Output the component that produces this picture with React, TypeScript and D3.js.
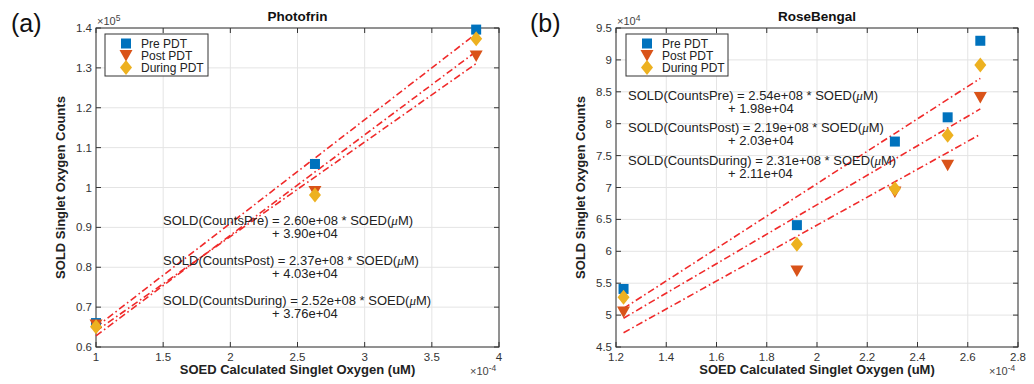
import React from "react";
import * as d3 from "d3";

// ---------- Data ----------
// Panel (a) Photofrin: x in 1e-4 uM, y in 1e5 counts
const photofrinX = [1.0, 2.63, 3.83];
const photofrinPre = [0.66, 1.059, 1.396];
const photofrinPost = [0.655, 0.99, 1.33];
const photofrinDuring = [0.651, 0.981, 1.373];
const photofrinSlopes = [2.6, 2.37, 2.52]; // e+08
const photofrinIntercepts = [3.9, 4.03, 3.76]; // e+04
const photofrinXTicks = [1, 1.5, 2, 2.5, 3, 3.5, 4];
const photofrinYTicks = [0.6, 0.7, 0.8, 0.9, 1.0, 1.1, 1.2, 1.3, 1.4];

// Panel (b) RoseBengal: x in 1e-4 uM, y in 1e4 counts
const roseX = [1.23, 1.92, 2.31, 2.52, 2.65];
const rosePre = [5.41, 6.41, 7.72, 8.1, 9.3];
const rosePost = [5.05, 5.69, 6.93, 7.35, 8.41];
const roseDuring = [5.28, 6.11, 6.98, 7.82, 8.92];
const roseSlopes = [2.54, 2.19, 2.31]; // e+08
const roseIntercepts = [1.98, 2.03, 2.11]; // e+04
const roseXTicks = [1.2, 1.4, 1.6, 1.8, 2.0, 2.2, 2.4, 2.6, 2.8];
const roseYTicks = [4.5, 5, 5.5, 6, 6.5, 7, 7.5, 8, 8.5, 9, 9.5];

const seriesNames = ["Pre PDT", "Post PDT", "During PDT"];
const fitNames = ["CountsPre", "CountsPost", "CountsDuring"];

const FONT = "'Liberation Sans', Arial, Helvetica, sans-serif";
const COLORS = ["#0072BD", "#D95319", "#EDB120"];
const LINE_RED = "#f02a2a";
const AXIS = "#333333";
const GRID = "#e4e4e4";

function fmt(v: number) {
  return String(+v.toFixed(2));
}

function Marker({ kind, cx, cy }: { kind: number; cx: number; cy: number }) {
  if (kind === 0) {
    return <rect x={cx - 5} y={cy - 5} width={10} height={10} fill={COLORS[0]} />;
  }
  if (kind === 1) {
    const p = `${cx - 6.5},${cy - 5.5} ${cx + 6.5},${cy - 5.5} ${cx},${cy + 6}`;
    return <polygon points={p} fill={COLORS[1]} />;
  }
  const p = `${cx},${cy - 7.5} ${cx + 6},${cy} ${cx},${cy + 7.5} ${cx - 6},${cy}`;
  return <polygon points={p} fill={COLORS[2]} />;
}

interface PanelProps {
  left: number;
  right: number;
  top: number;
  bottom: number;
  xDomain: [number, number];
  yDomain: [number, number];
  xTicks: number[];
  yTicks: number[];
  xs: number[];
  ys: number[][];
  slopes: number[];
  intercepts: number[];
  yExp: number;
  title: string;
  letter: string;
  letterX: number;
  legendX: number;
  legendW: number;
  eqX: number;
  eqIndent: number;
  eqY: number[];
}

function Panel(p: PanelProps) {
  const x = d3.scaleLinear().domain(p.xDomain).range([p.left, p.right]);
  const y = d3.scaleLinear().domain(p.yDomain).range([p.bottom, p.top]);
  const ylabelX = p.left - 31;
  const tickLen = 5;
  const xMin = d3.min(p.xs) as number;
  const xMax = d3.max(p.xs) as number;
  const yScaleFactor = Math.pow(10, p.yExp);
  const fitY = (i: number, xv: number) =>
    (p.slopes[i] * 1e8 * xv * 1e-4 + p.intercepts[i] * 1e4) / yScaleFactor;

  const cx = (p.left + p.right) / 2;
  const cy = (p.top + p.bottom) / 2;

  return (
    <g>
      <text x={p.letterX} y={32} fontSize={25} fontFamily={FONT} fill="#111">
        {p.letter}
      </text>
      <text x={cx} y={21} textAnchor="middle" fontSize={13.5} fontWeight="bold" fontFamily={FONT} fill="#111">
        {p.title}
      </text>
      {p.xTicks.map((t) => (
        <line key={"gx" + t} x1={x(t)} x2={x(t)} y1={p.top} y2={p.bottom} stroke={GRID} strokeWidth={1} />
      ))}
      {p.yTicks.map((t) => (
        <line key={"gy" + t} x1={p.left} x2={p.right} y1={y(t)} y2={y(t)} stroke={GRID} strokeWidth={1} />
      ))}
      {p.xTicks.map((t) => (
        <g key={"tx" + t}>
          <line x1={x(t)} x2={x(t)} y1={p.bottom} y2={p.bottom - tickLen} stroke={AXIS} />
          <line x1={x(t)} x2={x(t)} y1={p.top} y2={p.top + tickLen} stroke={AXIS} />
          <text x={x(t)} y={p.bottom + 14} textAnchor="middle" fontSize={11.5} fontFamily={FONT} fill="#333">
            {fmt(t)}
          </text>
        </g>
      ))}
      {p.yTicks.map((t) => (
        <g key={"ty" + t}>
          <line x1={p.left} x2={p.left + tickLen} y1={y(t)} y2={y(t)} stroke={AXIS} />
          <line x1={p.right} x2={p.right - tickLen} y1={y(t)} y2={y(t)} stroke={AXIS} />
          <text x={p.left - 4} y={y(t) + 4} textAnchor="end" fontSize={11.5} fontFamily={FONT} fill="#333">
            {fmt(t)}
          </text>
        </g>
      ))}
      <rect x={p.left} y={p.top} width={p.right - p.left} height={p.bottom - p.top} fill="none" stroke={AXIS} strokeWidth={1} />
      <text x={p.left + 1} y={p.top - 3} fontSize={11} fontFamily={FONT} fill="#444">
        ×10<tspan dy={-4} fontSize={8.5}>{p.yExp}</tspan>
      </text>
      <text x={p.right - 29} y={p.bottom + 28} fontSize={11} fontFamily={FONT} fill="#444">
        ×10<tspan dy={-4} fontSize={8.5}>-4</tspan>
      </text>
      <text x={cx} y={p.bottom + 27} textAnchor="middle" fontSize={13} fontWeight="bold" fontFamily={FONT} fill="#222">
        SOED Calculated Singlet Oxygen (uM)
      </text>
      <text
        transform={`translate(${ylabelX},${cy}) rotate(-90)`}
        textAnchor="middle"
        fontSize={13}
        fontWeight="bold"
        fontFamily={FONT}
        fill="#222"
      >
        SOLD Singlet Oxygen Counts
      </text>
      {p.slopes.map((s, i) => {
        const pts: [number, number][] = [xMin, xMax].map((xv) => [x(xv), y(fitY(i, xv))]);
        const path = d3.line()(pts) as string;
        return (
          <path
            key={"fit" + i}
            d={path}
            fill="none"
            stroke={LINE_RED}
            strokeWidth={1.6}
            strokeDasharray="7,3,1.6,3"
          />
        );
      })}
      {p.ys.map((vals, k) =>
        vals.map((v, j) => <Marker key={`m${k}-${j}`} kind={k} cx={x(p.xs[j])} cy={y(v)} />)
      )}
      {p.slopes.map((s, i) => (
        <g key={"eq" + i}>
          <text x={p.eqX} y={p.eqY[i] + 4.5} fontSize={13} fontFamily={FONT} fill="#222">
            {`SOLD(${fitNames[i]}) = ${s.toFixed(2)}e+08 * SOED(`}
            <tspan fontStyle="italic" fontFamily="'Liberation Serif', serif">μ</tspan>
            {"M)"}
          </text>
          <text x={p.eqX + p.eqIndent} y={p.eqY[i] + 4.5 + 13} fontSize={13} fontFamily={FONT} fill="#222">
            {`+ ${p.intercepts[i].toFixed(2)}e+04`}
          </text>
        </g>
      ))}
      <rect x={p.legendX} y={34} width={p.legendW} height={42} fill="#fff" stroke={AXIS} strokeWidth={1} />
      {seriesNames.map((n, k) => (
        <g key={"lg" + k}>
          <Marker kind={k} cx={p.legendX + 21} cy={43.5 + k * 12} />
          <text x={p.legendX + 36} y={43.5 + k * 12 + 4.2} fontSize={12} fontFamily={FONT} fill="#222">
            {n}
          </text>
        </g>
      ))}
    </g>
  );
}

export default function App() {
  return (
    <svg
      width={1034}
      height={384}
      style={{ position: "absolute", left: 0, top: 0, background: "#fff" }}
    >
      <rect x={0} y={0} width={1034} height={384} fill="#fff" />
      <Panel
        left={96}
        right={499}
        top={28}
        bottom={347}
        xDomain={[1, 4]}
        yDomain={[0.6, 1.4]}
        xTicks={photofrinXTicks}
        yTicks={photofrinYTicks}
        xs={photofrinX}
        ys={[photofrinPre, photofrinPost, photofrinDuring]}
        slopes={photofrinSlopes}
        intercepts={photofrinIntercepts}
        yExp={5}
        title="Photofrin"
        letter="(a)"
        letterX={11}
        legendX={105}
        legendW={103}
        eqX={163}
        eqIndent={109}
        eqY={[220.5, 260.5, 300]}
      />
      <Panel
        left={616}
        right={1018}
        top={28}
        bottom={347}
        xDomain={[1.2, 2.8]}
        yDomain={[4.5, 9.5]}
        xTicks={roseXTicks}
        yTicks={roseYTicks}
        xs={roseX}
        ys={[rosePre, rosePost, roseDuring]}
        slopes={roseSlopes}
        intercepts={roseIntercepts}
        yExp={4}
        title="RoseBengal"
        letter="(b)"
        letterX={530}
        legendX={626}
        legendW={102}
        eqX={628}
        eqIndent={100}
        eqY={[95.5, 127.5, 160.5]}
      />
    </svg>
  );
}
